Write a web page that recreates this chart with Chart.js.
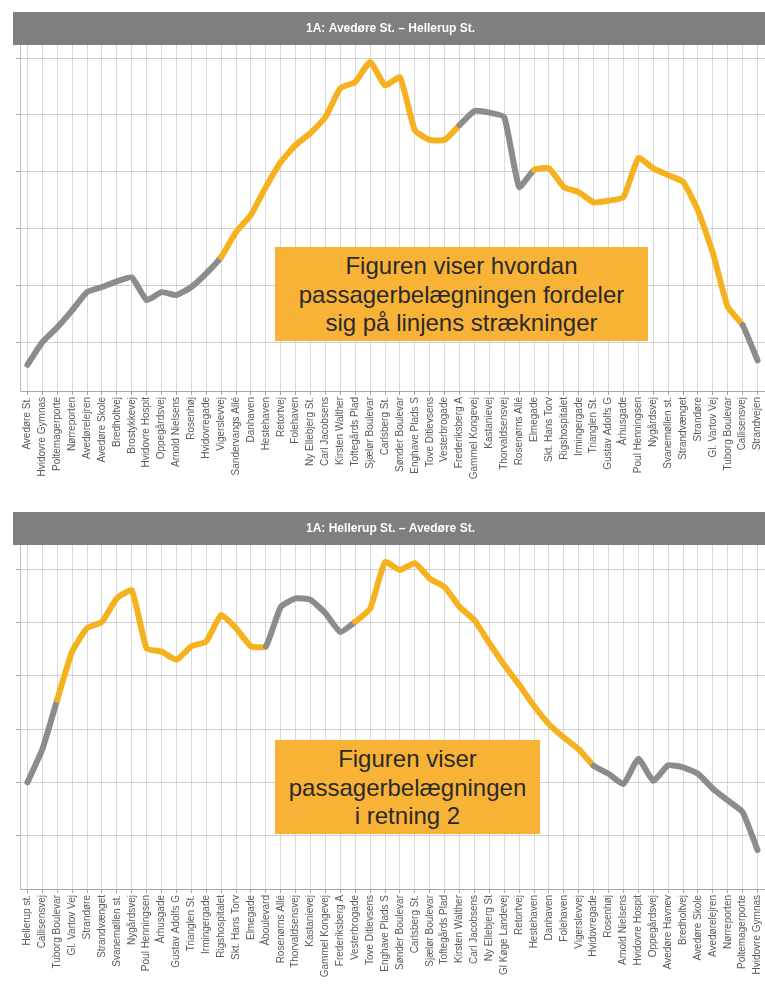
<!DOCTYPE html>
<html>
<head>
<meta charset="utf-8">
<script src="https://cdn.jsdelivr.net/npm/chart.js@4.4.1/dist/chart.umd.min.js"></script>
<style>
  html, body { margin: 0; padding: 0; background: #ffffff; width: 765px; height: 999px; overflow: hidden; }
  .wrap { position: absolute; left: 0; width: 765px; }
  #w1 { top: 0; height: 500px; }
  #w2 { top: 500px; height: 499px; }
  .note {
    position: absolute; background: #F8B336; color: #2a2a2a;
    font-family: "Liberation Sans", Arial, sans-serif; font-size: 24px; line-height: 28.5px;
    text-align: center; display: flex; align-items: center; justify-content: center;
    box-sizing: border-box; padding-top: 2px;
  }
</style>
</head>
<body>
<div class="wrap" id="w1"><canvas id="c1" width="765" height="500"></canvas></div>
<div class="wrap" id="w2"><canvas id="c2" width="765" height="499"></canvas></div>
<div class="note" style="left:275px;top:247px;width:373px;height:94px;">Figuren viser hvordan<br>passagerbelægningen fordeler<br>sig på linjens strækninger</div>
<div class="note" style="left:275px;top:740px;width:265px;height:94px;">Figuren viser<br>passagerbelægningen<br>i retning 2</div>
<script>
// ---------- Data ----------
const title1 = "1A: Avedøre St. – Hellerup St.";
const title2 = "1A: Hellerup St. – Avedøre St.";

const stops1 = ["Avedøre St.", "Hvidovre Gymnas", "Poltemagerporte", "Nørreporten", "Avedørelejren",
  "Avedøre Skole", "Bredholtvej", "Brostykkevej", "Hvidovre Hospit", "Oppegårdsvej",
  "Arnold Nielsens", "Rosenhøj", "Hvidovregade", "Vigerslevvej", "Sandervangs Allé",
  "Danhaven", "Hestehaven", "Retortvej", "Folehaven", "Ny Ellebjerg St.",
  "Carl Jacobsens", "Kirsten Walther", "Toftegårds Plad", "Sjælør Boulevar", "Carlsberg St.",
  "Sønder Boulevar", "Enghave Plads S", "Tove Ditlevsens", "Vesterbrogade", "Frederiksberg A",
  "Gammel Kongevej", "Kastanievej", "Thorvaldsensvej", "Rosenørns Allé", "Elmegade",
  "Skt. Hans Torv", "Rigshospitalet", "Irmingergade", "Trianglen St.", "Gustav Adolfs G",
  "Århusgade", "Poul Henningsen", "Nygårdsvej", "Svanemøllen st.", "Strandvænget",
  "Strandøre", "Gl. Vartov Vej", "Tuborg Boulevar", "Callisensvej", "Strandvejen"];

const load1 = [60, 100, 126, 156, 188, 197, 207, 214, 174, 188,
  183, 197, 221, 250, 294, 324, 373, 417, 447, 468,
  496, 547, 558, 593, 552, 566, 473, 456, 456, 482,
  507, 504, 496, 373, 403, 406, 373, 364, 346, 349,
  355, 424, 406, 394, 382, 332, 257, 162, 130, 68];

const stops2 = ["Hellerup st.", "Callisensvej", "Tuborg Boulevar", "Gl. Vartov Vej", "Strandøre",
  "Strandvænget", "Svanemøllen st.", "Nygårdsvej", "Poul Henningsen", "Århusgade",
  "Gustav Adolfs G", "Trianglen St.", "Irmingergade", "Rigshospitalet", "Skt. Hans Torv",
  "Elmegade", "Åboulevard", "Rosenørns Allé", "Thorvaldsensvej", "Kastanievej",
  "Gammel Kongevej", "Frederiksberg A", "Vesterbrogade", "Tove Ditlevsens", "Enghave Plads S",
  "Sønder Boulevar", "Carlsberg St.", "Sjælør Boulevar", "Toftegårds Plad", "Kirsten Walther",
  "Carl Jacobsens", "Ny Ellebjerg St", "Gl Køge Landevej", "Retortvej", "Hestehaven",
  "Danhaven", "Folehaven", "Vigerslevvej", "Hvidovregade", "Rosenhøj",
  "Arnold Nielsens", "Hvidovre Hospit", "Oppegårdsvej", "Avedøre Havnev", "Bredholtvej",
  "Avedøre Skole", "Avedørelejren", "Nørreporten", "Poltemagerporte", "Hvidovre Gymnas"];

const load2 = [200, 262, 355, 445, 489, 501, 545, 560, 451, 445,
  430, 455, 464, 514, 489, 455, 455, 529, 545, 542,
  517, 482, 501, 526, 613, 598, 611, 582, 566, 529,
  504, 461, 420, 383, 343, 309, 284, 262, 231, 216,
  197, 244, 203, 232, 228, 216, 188, 166, 144, 73];

// segments (start index, end index) drawn in the highlight colour
const highlight1 = [[13, 29], [34, 48]];
const highlight2 = [[2, 16], [22, 38]];

const gridValues = [100, 200, 300, 400, 500, 600];

// ---------- Styling ----------
const YELLOW = '#F6B21E';
const GRAY = '#8C8C8C';
const FONT = '"Liberation Sans", Arial, sans-serif';

const titleBar = {
  id: 'titleBar',
  beforeDraw(chart) {
    const tb = chart.titleBlock;
    const ctx = chart.ctx;
    ctx.save();
    ctx.fillStyle = '#7F7F7F';
    ctx.fillRect(13, tb.top, chart.width - 13, tb.height);
    ctx.restore();
  }
};

function makeChart(id, labels, values, spans, title, yMin, yMax, xHeight) {
  const inSpan = i => spans.some(([a, b]) => i >= a && i < b);
  return new Chart(document.getElementById(id), {
    type: 'line',
    data: {
      labels: labels,
      datasets: [{
        data: values,
        borderColor: GRAY,
        borderWidth: 6,
        pointRadius: 0,
        tension: 0.15,
        borderCapStyle: 'round',
        borderJoinStyle: 'round',
        fill: false,
        segment: {
          borderColor: ctx => inSpan(ctx.p0DataIndex) ? YELLOW : GRAY
        }
      }]
    },
    options: {
      responsive: false,
      animation: false,
      layout: { padding: { top: 12, left: 16, right: 0, bottom: 0 } },
      plugins: {
        legend: { display: false },
        tooltip: { enabled: false },
        title: {
          display: true,
          text: title,
          color: '#ffffff',
          font: { family: FONT, size: 12, weight: 'bold' },
          padding: { top: 9, bottom: 9.6 }
        }
      },
      scales: {
        x: {
          type: 'category',
          offset: true,
          grid: { color: '#D9D9D9', lineWidth: 1, tickLength: 4, offset: false, tickColor: '#A6A6A6' },
          border: { display: true, color: '#A6A6A6' },
          ticks: {
            autoSkip: false, maxRotation: 90, minRotation: 90, padding: 2,
            color: '#595959', font: { family: FONT, size: 10 }
          },
          afterFit: s => { s.height = xHeight; s.paddingLeft = 0; s.paddingRight = 0; }
        },
        y: {
          min: yMin, max: yMax,
          afterBuildTicks: s => { s.ticks = gridValues.map(v => ({ value: v })); },
          grid: { color: '#CFCFCF', lineWidth: 1, tickLength: 4, tickColor: '#A6A6A6' },
          border: { display: true, color: '#BFBFBF' },
          ticks: { display: false }
        }
      }
    },
    plugins: [titleBar]
  });
}

makeChart('c1', stops1, load1, highlight1, title1, 14, 623, 109);
makeChart('c2', stops2, load2, highlight2, title2, 0, 645, 110);
</script>
</body>
</html>
